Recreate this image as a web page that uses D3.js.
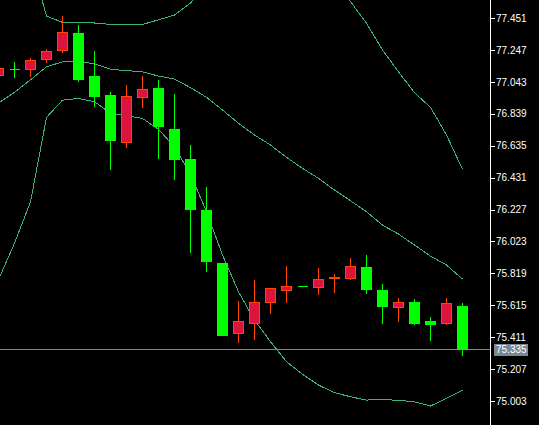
<!DOCTYPE html>
<html>
<head>
<meta charset="utf-8">
<script src="https://cdn.jsdelivr.net/npm/d3@7"></script>
<style>
  html, body { margin: 0; padding: 0; background: #000; }
  svg { display: block; }
</style>
</head>
<body>
<div id="chart"></div>
<script>
// ---- data ----
const bars = d3.range(30); // bar index, oldest first
const open  = [77.082, 77.123, 77.123, 77.187, 77.244, 77.355, 77.074, 76.958, 76.656, 76.944, 77.003, 76.741, 76.549, 76.223, 75.885, 75.433, 75.497, 75.631, 75.708, 75.736, 75.727, 75.788, 75.784, 75.859, 75.712, 75.599, 75.635, 75.508, 75.497, 75.610];
const high  = [77.136, 77.169, 77.193, 77.251, 77.463, 77.406, 77.240, 76.978, 77.022, 77.080, 77.054, 76.965, 76.639, 76.370, 75.885, 75.644, 75.776, 75.723, 75.865, 75.736, 75.853, 75.814, 75.917, 75.936, 75.750, 75.661, 75.653, 75.540, 75.661, 75.629];
const low   = [77.076, 77.069, 77.075, 77.165, 77.229, 77.043, 76.884, 76.481, 76.622, 76.877, 76.551, 76.417, 75.951, 75.829, 75.420, 75.375, 75.394, 75.561, 75.631, 75.736, 75.682, 75.695, 75.778, 75.688, 75.497, 75.509, 75.490, 75.388, 75.490, 75.292];
const close = [77.129, 77.123, 77.180, 77.238, 77.359, 77.056, 76.948, 76.666, 76.950, 76.997, 76.756, 76.545, 76.225, 75.893, 75.424, 75.514, 75.633, 75.723, 75.736, 75.736, 75.780, 75.794, 75.865, 75.714, 75.605, 75.635, 75.497, 75.490, 75.623, 75.335];
const bandUpper  = [78.036, 77.941, 77.832, 77.463, 77.423, 77.423, 77.419, 77.410, 77.410, 77.410, 77.439, 77.470, 77.547, 77.675, 77.789, 77.854, 77.885, 77.896, 77.867, 77.807, 77.747, 77.647, 77.556, 77.417, 77.246, 77.107, 76.973, 76.880, 76.703, 76.484];
const bandMiddle = [76.907, 76.976, 77.056, 77.139, 77.171, 77.171, 77.159, 77.123, 77.115, 77.107, 77.080, 77.061, 77.006, 76.944, 76.863, 76.778, 76.703, 76.639, 76.560, 76.490, 76.426, 76.351, 76.283, 76.213, 76.127, 76.070, 76.000, 75.929, 75.872, 75.782];
const bandLower  = [75.779, 76.011, 76.276, 76.816, 76.926, 76.937, 76.916, 76.842, 76.826, 76.809, 76.739, 76.628, 76.452, 76.213, 75.936, 75.701, 75.520, 75.382, 75.254, 75.173, 75.105, 75.056, 75.030, 75.009, 75.013, 75.007, 74.998, 74.971, 75.020, 75.073];
const priceTicks = [77.451, 77.247, 77.043, 76.839, 76.635, 76.431, 76.227, 76.023, 75.819, 75.615, 75.411, 75.207, 75.003];
const bidPrice = close[close.length - 1];

// ---- layout ----
const W = 539, H = 425;
const axisX = 490.5;
const bullFill = "#DC143C", bullStroke = "#FF4500", bearColor = "#00FF00";
const bandColor = "#3CB371", bidColor = "#778899";

const svg = d3.select("#chart").append("svg")
  .attr("width", W).attr("height", H)
  .style("background", "#000");

const x = d3.scaleLinear().domain([0, 29]).range([-1.5, 462.5]);
const y = d3.scaleLinear().domain([75.003, 77.451]).range([401, 18]);

svg.append("clipPath").attr("id", "plot")
  .append("rect").attr("x", 0).attr("y", 0).attr("width", axisX).attr("height", H);

const plot = svg.append("g").attr("clip-path", "url(#plot)");

// bid line
plot.append("line")
  .attr("x1", 0).attr("x2", axisX)
  .attr("y1", y(bidPrice)).attr("y2", y(bidPrice))
  .attr("stroke", bidColor).attr("stroke-width", 1)
  .attr("shape-rendering", "crispEdges");

// Bollinger bands
const line = d3.line().x((d, i) => x(bars[i])).y(d => y(d));
[bandUpper, bandMiddle, bandLower].forEach(series => {
  plot.append("path")
    .attr("d", line(series))
    .attr("fill", "none")
    .attr("stroke", bandColor)
    .attr("stroke-width", 1)
    .attr("shape-rendering", "crispEdges");
});

// candles
const half = 5;
const isBull = i => close[i] > open[i];
const candles = plot.selectAll("g.candle").data(bars).join("g")
  .attr("class", "candle")
  .attr("shape-rendering", "crispEdges");

candles.append("line")
  .attr("x1", i => x(i)).attr("x2", i => x(i))
  .attr("y1", i => y(high[i])).attr("y2", i => y(low[i]))
  .attr("stroke", i => isBull(i) ? bullStroke : bearColor)
  .attr("stroke-width", 1);

// body drawn as a path so that open == close still shows as a line
candles.append("path")
  .attr("d", i => {
    const top = y(Math.max(open[i], close[i]));
    const h = Math.abs(y(open[i]) - y(close[i]));
    const p = d3.path();
    p.rect(x(i) - half, top, half * 2, h);
    return p.toString();
  })
  .attr("fill", i => isBull(i) ? bullFill : bearColor)
  .attr("stroke", i => isBull(i) ? bullStroke : bearColor)
  .attr("stroke-width", 1);

// price axis
svg.append("line")
  .attr("x1", axisX).attr("x2", axisX).attr("y1", 0).attr("y2", H)
  .attr("stroke", "#fff").attr("stroke-width", 1)
  .attr("shape-rendering", "crispEdges");

const axis = d3.axisRight(y)
  .tickValues(priceTicks)
  .tickSize(4)
  .tickPadding(1.5)
  .tickFormat(d => d.toFixed(3));

const ag = svg.append("g")
  .attr("transform", `translate(${axisX},0)`)
  .call(axis);
ag.select(".domain").remove();
ag.selectAll(".tick line").attr("stroke", "#fff").attr("shape-rendering", "crispEdges");
ag.selectAll(".tick text")
  .attr("fill", "#fff")
  .style("font-family", "'Liberation Sans', Arial, sans-serif")
  .style("font-size", "10px");

// bid label
const bidG = svg.append("g");
bidG.append("rect")
  .attr("x", 494).attr("width", 34)
  .attr("y", y(bidPrice) - 5.5).attr("height", 12)
  .attr("fill", bidColor)
  .attr("shape-rendering", "crispEdges");
bidG.append("text")
  .attr("x", axisX + 5.5)
  .attr("y", y(bidPrice))
  .attr("dy", "0.36em")
  .attr("fill", "#fff")
  .style("font-family", "'Liberation Sans', Arial, sans-serif")
  .style("font-size", "10px")
  .text(bidPrice.toFixed(3));
</script>
</body>
</html>
